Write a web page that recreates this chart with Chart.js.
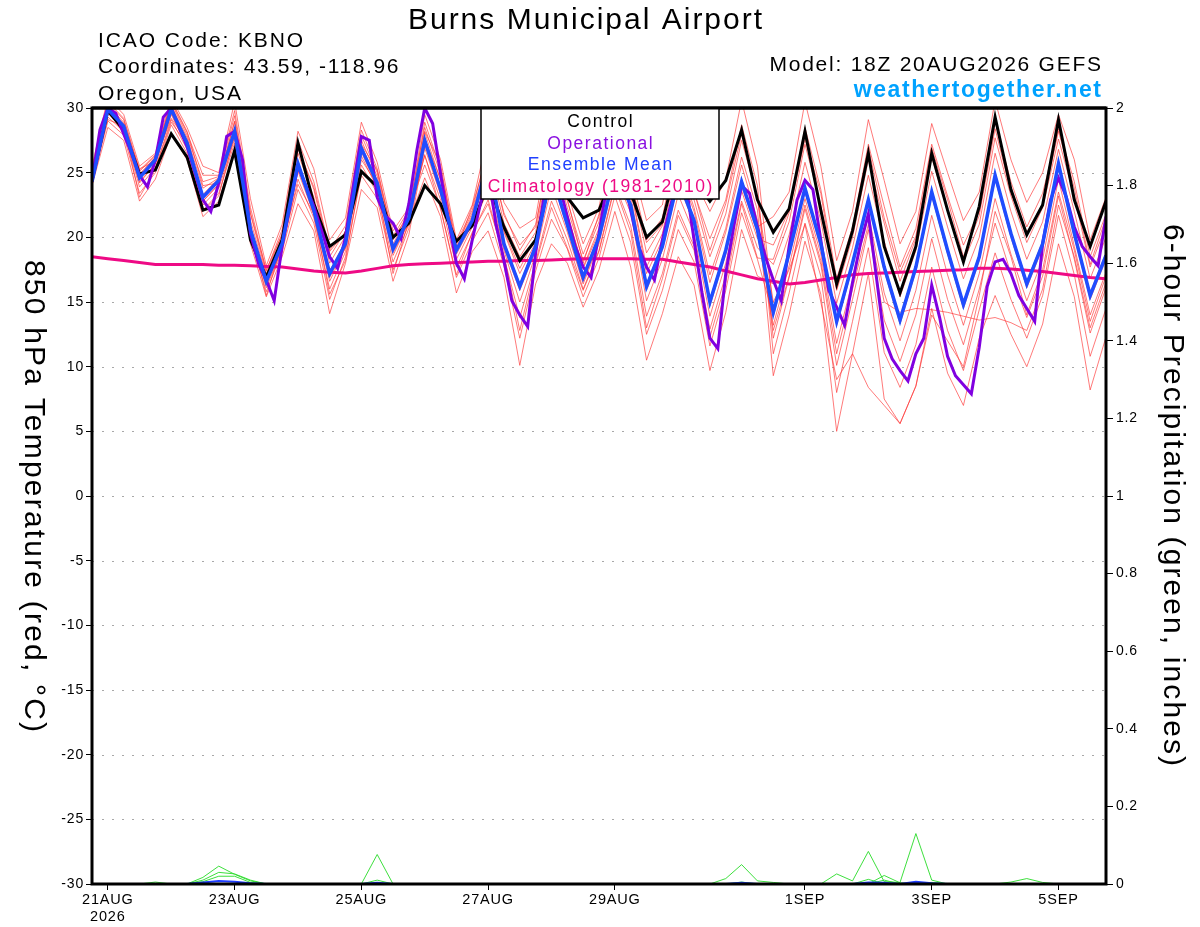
<!DOCTYPE html>
<html><head><meta charset="utf-8">
<script src="https://cdn.jsdelivr.net/npm/chart.js@4.4.1/dist/chart.umd.min.js"></script>
<style>html,body{margin:0;padding:0;background:#fff;}canvas{display:block;}</style>
</head><body>
<canvas id="c" width="1200" height="927"></canvas>
<script>
// ---------- DATA (6-hourly from 18Z 20AUG2026, forecast hours) ----------
const STEP_HOURS = 6;        // ensemble / control / climatology / precip step
const OP_STEP_HOURS = 3;     // operational run step

const control = [24.4,29.8,28.3,24.9,25.2,28.0,26.2,22.1,22.5,26.7,19.8,16.9,19.8,27.3,22.6,19.3,20.2,25.1,23.9,20.0,21.1,
  24.0,22.6,19.7,20.9,24.2,20.8,18.2,19.8,24.8,23.1,21.5,22.1,25.0,23.5,20.0,21.2,26.0,24.5,22.8,24.4,28.3,22.9,
  20.4,22.2,28.2,22.1,16.4,20.5,26.5,19.3,15.7,19.3,26.5,22.1,18.1,22.4,29.3,23.7,20.2,22.5,29.1,22.9,19.3,22.8];

const ensembleMean = [24.3,29.9,28.6,24.6,26.0,29.9,27.3,23.1,24.4,28.2,20.6,16.6,19.5,25.7,22.1,17.2,19.5,26.9,24.2,19.1,21.5,
  27.5,23.7,19.0,21.3,26.0,19.5,16.2,19.3,25.0,21.0,16.9,20.0,25.0,22.5,16.2,19.3,24.5,21.3,15.0,19.0,24.3,20.6,
  14.2,18.8,23.8,19.5,13.5,18.0,22.9,17.7,13.6,17.7,23.5,19.0,14.8,18.5,24.8,20.3,16.4,19.5,25.7,20.3,15.5,18.6];

const operational = [24.4,28.3,30.0,29.6,28.0,26.5,24.8,23.9,26.0,29.3,30.0,28.5,27.0,25.0,22.9,22.0,24.2,27.8,28.2,26.0,
  20.3,18.0,16.7,15.1,19.3,22.5,25.5,24.0,22.4,20.5,18.5,17.6,20.0,24.0,27.8,27.5,23.1,21.7,21.1,19.9,
  22.6,26.7,30.0,28.8,24.9,21.3,18.0,16.8,19.8,22.5,25.0,21.0,18.2,15.1,14.0,13.1,18.8,22.9,26.0,24.0,
  21.6,19.3,17.7,16.9,20.3,24.0,26.0,25.0,22.1,19.3,17.7,16.7,19.8,22.4,24.5,24.0,19.8,15.7,12.2,11.4,
  17.2,20.8,24.0,23.4,20.8,18.5,16.7,15.1,19.3,22.9,24.4,23.7,19.8,15.9,14.6,13.2,16.5,19.5,21.8,17.0,
  12.2,10.6,9.7,8.9,11.0,12.2,16.3,13.8,10.8,9.3,8.6,7.9,11.5,16.2,18.1,18.3,17.2,15.5,14.5,13.5,
  19.5,22.9,24.6,23.1,20.8,19.3,18.5,17.8,21.6];

const climatology = [18.5,18.35,18.2,18.05,17.9,17.9,17.9,17.9,17.85,17.85,17.8,17.75,17.7,17.55,17.4,17.3,17.25,17.4,17.6,17.8,17.9,
  17.95,18.0,18.05,18.1,18.15,18.15,18.2,18.2,18.25,18.3,18.35,18.35,18.35,18.35,18.3,18.3,18.1,17.9,17.7,17.4,17.1,16.8,
  16.6,16.4,16.5,16.7,16.9,17.1,17.2,17.25,17.3,17.35,17.4,17.45,17.5,17.6,17.6,17.55,17.45,17.35,17.2,17.05,16.9,16.8];

// ensemble members (estimated)
const member01 = [25.5,30.8,29.5,25.5,26.5,30.8,28.5,25.5,25.0,30.5,23.0,17.8,21.0,28.2,25.3,19.8,21.5,28.9,25.8,20.5,22.3,
  28.5,24.9,19.4,21.9,26.3,21.1,18.5,20.4,26.8,22.3,18.2,21.2,27.3,24.5,18.8,20.9,26.8,22.9,18.5,21.8,27.5,23.1,
  12.2,16.9,22.2,17.9,10.1,15.2,20.6,13.6,10.4,14.0,19.9,15.2,11.7,16.0,21.1,17.2,13.8,17.0,23.2,18.3,12.6,16.1];
const member02 = [24.0,28.5,27.5,22.8,24.5,28.0,26.0,21.6,22.8,26.8,19.5,15.4,18.5,22.6,20.5,14.1,18.0,23.7,22.3,16.6,20.2,
  26.9,23.3,18.3,20.8,23.7,19.0,15.0,18.7,23.9,20.4,16.4,19.5,24.8,21.9,15.1,18.3,23.3,20.3,13.9,18.0,23.6,19.9,
  19.4,22.1,28.5,23.7,16.8,20.8,27.2,22.4,17.7,20.7,27.2,23.2,19.4,22.0,28.9,24.3,20.8,23.4,28.4,24.3,18.5,21.8];
const member03 = [24.5,30.1,28.8,24.8,26.2,30.1,27.5,23.3,24.6,28.4,20.8,16.8,19.7,25.9,22.3,17.4,19.7,27.1,24.4,19.3,21.7,
  29.5,26.0,19.8,22.5,28.0,22.7,20.7,21.5,28.5,23.5,19.5,22.3,29.0,26.0,21.3,22.5,29.0,24.5,22.0,24.5,30.6,25.5,
  14.4,19.0,24.0,19.7,13.7,18.2,23.1,17.9,13.8,17.9,23.7,19.2,15.0,18.7,25.0,20.5,16.6,19.7,25.9,20.5,15.7,18.8];
const member04 = [24.2,29.6,28.4,24.2,25.7,29.5,27.0,22.8,24.1,27.9,20.4,16.4,19.3,25.1,21.8,16.6,19.2,26.3,23.8,18.6,21.2,
  24.6,21.6,15.7,18.9,20.5,16.9,10.1,16.4,19.5,18.0,14.6,17.5,22.0,17.7,10.5,14.1,18.5,16.3,9.7,14.2,20.6,17.0,
  16.4,20.2,25.8,21.3,14.9,19.2,24.8,19.7,15.4,19.0,25.1,20.8,16.8,20.0,26.5,22.0,18.3,21.2,26.8,22.0,16.8,20.0];
const member05 = [24.9,30.4,29.1,25.1,26.3,30.4,27.9,24.3,24.7,29.4,21.8,17.2,20.3,27.0,23.7,18.5,20.5,27.9,25.0,19.8,21.9,
  27.7,23.9,19.2,21.5,24.7,19.7,16.4,19.5,25.2,21.2,17.1,20.2,25.7,23.2,16.4,19.5,24.7,21.5,15.2,19.2,24.5,20.8,
  21.6,23.5,30.5,25.5,18.2,22.0,29.1,24.4,19.5,22.0,28.8,25.0,21.3,23.5,30.6,26.0,22.7,25.0,29.5,26.0,19.8,23.1];
const member06 = [24.2,29.3,28.2,23.9,25.4,29.1,26.8,22.5,23.8,27.6,20.2,16.1,19.1,24.5,21.5,16.0,18.9,25.6,23.4,18.1,21.0,
  28.1,24.4,19.2,21.7,25.6,20.5,17.6,20.0,26.1,21.8,17.7,20.7,26.6,23.9,17.7,20.3,25.9,22.3,17.1,20.7,26.2,22.1,
  9.3,14.0,19.7,15.6,5.0,11.0,17.2,7.5,5.6,8.5,14.5,9.5,7.0,12.2,15.5,12.5,10.0,13.3,19.5,15.4,8.2,12.3];
const member07 = [25.1,30.5,29.2,25.2,26.4,30.5,28.1,24.8,24.8,29.8,22.3,17.4,20.6,27.5,24.3,19.0,20.9,28.3,25.3,20.1,22.1,
  25.6,22.3,16.9,19.7,21.9,17.8,12.2,17.4,21.4,19.1,15.4,18.4,23.2,19.6,12.5,15.9,20.6,18.1,11.6,15.9,21.9,18.3,
  13.9,18.5,23.5,19.2,13.2,17.7,22.6,17.4,13.3,17.4,23.2,18.7,14.5,18.2,24.5,20.0,16.1,19.2,25.4,20.0,15.2,18.3];
const member08 = [24.0,29.6,28.3,24.3,25.7,29.6,27.0,22.8,24.1,27.9,20.3,16.3,19.2,25.4,21.8,16.9,19.2,26.6,23.9,18.8,21.2,
  28.9,25.3,19.6,22.1,27.0,21.7,19.4,20.8,27.5,22.8,18.7,21.6,28.0,25.1,19.8,21.5,27.7,23.5,19.9,22.9,28.7,24.0,
  11.0,15.7,21.1,17.0,8.0,13.5,19.2,11.1,8.4,11.7,17.7,12.8,9.7,14.4,18.8,15.2,12.2,15.5,21.7,17.1,10.8,14.5];
const member09 = [24.7,30.2,28.9,24.9,26.2,30.2,27.7,23.8,24.6,28.9,21.3,17.0,20.0,26.5,23.1,18.0,20.1,27.5,24.7,19.5,21.7,
  26.3,22.9,17.7,20.3,22.9,18.5,13.8,18.1,22.8,19.8,16.0,19.0,24.1,20.9,13.9,17.2,22.1,19.3,12.9,17.1,22.8,19.2,
  17.9,21.2,27.2,22.5,15.9,20.0,26.0,21.1,16.6,19.9,26.2,22.0,18.1,21.0,27.7,23.2,19.6,22.3,27.6,23.2,17.7,20.9];
const member10 = [24.1,29.0,27.9,23.4,25.0,28.7,26.5,22.1,23.4,27.3,19.9,15.8,18.9,23.7,21.1,15.2,18.5,24.8,23.0,17.5,20.7,
  27.2,23.4,18.7,21.0,24.2,19.2,15.9,19.0,24.7,20.7,16.6,19.7,25.2,22.7,15.9,19.0,24.2,21.0,14.7,18.7,24.0,20.3,
  13.2,17.8,23.0,18.7,11.8,16.6,21.8,15.7,12.0,15.9,21.7,17.1,13.2,17.2,23.0,18.7,15.1,18.3,24.5,19.3,14.0,17.3];
const member11 = [24.6,29.1,28.6,23.1,25.3,28.9,27.2,22.0,23.2,27.9,20.5,15.5,19.5,24.1,21.8,15.6,18.2,25.2,23.8,17.2,21.3,
  28.2,25.6,19.0,22.4,26.6,21.9,19.0,21.0,27.1,23.0,18.0,21.8,27.8,24.3,19.6,21.0,27.5,23.6,19.0,22.6,28.0,23.0,
  15.0,17.5,21.0,15.0,9.0,11.0,8.4,7.0,5.6,8.5,14.0,12.0,10.0,15.5,22.0,18.5,14.0,17.5,23.5,19.0,13.5,17.0];
const member12 = [25.2,30.0,28.7,25.3,25.9,30.6,28.2,24.0,24.2,29.0,21.9,17.5,20.2,26.8,23.9,18.9,20.4,27.2,25.2,20.0,21.6,
  26.4,22.2,17.1,20.4,22.6,18.6,12.8,17.9,22.3,19.2,15.9,18.9,23.9,20.4,13.0,16.8,21.7,19.0,12.3,16.5,22.6,18.4,
  18.3,21.9,27.6,23.4,16.0,20.6,26.9,21.5,17.3,20.1,26.9,22.9,18.5,21.7,28.4,23.5,20.4,22.6,28.2,23.8,17.9,21.5];
const member13 = [24.0,29.8,28.0,24.5,26.0,29.2,27.4,23.2,24.3,28.1,20.0,16.6,19.6,25.6,22.4,17.0,19.5,26.0,24.1,19.0,21.5,
  27.6,24.5,18.9,21.2,25.4,20.4,17.2,19.6,25.9,21.7,17.6,20.4,26.4,23.8,17.2,19.8,25.4,22.0,16.5,20.4,25.6,21.3,
  12.8,17.0,22.5,18.2,11.0,16.0,21.0,15.0,14.2,14.5,14.4,14.2,13.9,13.6,13.8,13.4,12.8,16.0,22.5,18.5,13.0,16.5];

// 6-hour precipitation (inches)
const precipMemberA = [0,0,0,0,0,0,0,0,0,0, 0,0,0,0,0,0,0,0,0,0, 0,0,0,0,0,0,0,0,0,0, 0,0,0,0,0,0,0,0,0,0,
  0.014,0.05,0.008,0.004,0,0,0,0.026,0.008,0.084,0.006,0.004,0.13,0.01,0,0,0,0,0.005,0.014,0.004,0,0,0,0];
const precipMemberB = [0,0,0,0,0.005,0,0,0.017,0.046,0.025,0.008,0,0,0,0,0,0,0,0.076,0,0,0,0,0,0,0,0,0,0,0,
  0,0,0,0,0,0,0,0,0,0,0,0,0,0,0,0,0,0,0,0,0.022,0.003,0,0,0,0,0,0,0,0,0,0,0,0,0];
const precipMemberC = [0,0,0,0,0,0,0,0.01,0.03,0.026,0.01,0,0,0,0,0,0,0,0.01,0,0,0,0,0,0,0,0,0,0,0,
  0,0,0,0,0,0,0,0,0,0,0,0.005,0,0,0,0,0,0,0,0.012,0,0,0,0,0,0,0,0,0,0,0,0,0,0,0];
const precipMemberD = [0,0,0,0,0,0,0,0.006,0.02,0.02,0.004,0,0,0,0,0,0,0,0,0,0,0,0,0,0,0,0,0,0,0,
  0,0,0,0,0,0,0,0,0,0,0,0,0,0,0,0,0,0,0,0,0.01,0,0,0.004,0,0,0,0,0,0,0,0,0,0,0];
const precipMean = [0,0,0,0,0,0,0,0.004,0.008,0.006,0.002,0,0,0,0,0,0,0,0.003,0,0,0,0,0,0,0,0,0,0,0,
  0,0,0,0,0,0,0,0,0,0,0,0.003,0,0,0,0,0,0,0,0.004,0.003,0,0.006,0.002,0,0,0,0,0,0,0,0,0,0,0];

// axes
const xTickHours = [6,54,102,150,198,270,318,366];
const xTickLabels = [['21AUG','2026'],'23AUG','25AUG','27AUG','29AUG','1SEP','3SEP','5SEP'];
const tempTicks = [-30,-25,-20,-15,-10,-5,0,5,10,15,20,25,30];
const precipTicks = [0,0.2,0.4,0.6,0.8,1,1.2,1.4,1.6,1.8,2];
const precipTickLabels = ['0','0.2','0.4','0.6','0.8','1','1.2','1.4','1.6','1.8','2'];

// ---------- CHART ----------
const FONT = "'Liberation Sans', Arial, Helvetica, sans-serif";
function pts(vals, step){ return vals.map((v,i)=>({x:i*step, y:v})); }
const members = [member01,member02,member03,member04,member05,member06,member07,member08,member09,member10,member11,member12,member13];
const precipMembers = [precipMemberA,precipMemberB,precipMemberC,precipMemberD];

const datasets = [
  {label:'Ensemble Mean', data:pts(ensembleMean,STEP_HOURS), borderColor:'#1f4dff', borderWidth:3.5, order:1, yAxisID:'y'},
  {label:'Operational', data:pts(operational,OP_STEP_HOURS), borderColor:'#8000e0', borderWidth:3, order:2, yAxisID:'y'},
  {label:'Control', data:pts(control,STEP_HOURS), borderColor:'#000000', borderWidth:3, order:3, yAxisID:'y'},
  {label:'Climatology (1981-2010)', data:pts(climatology,STEP_HOURS), borderColor:'#ee0a85', borderWidth:3, order:4, yAxisID:'y'},
];
members.forEach((m,k)=>datasets.push({label:'member'+(k+1), data:pts(m,STEP_HOURS), borderColor:'rgba(255,50,50,0.65)', borderWidth:1, order:10, yAxisID:'y'}));
datasets.push({label:'precip mean', data:pts(precipMean,STEP_HOURS), borderColor:'#1f3dff', borderWidth:2, order:5, yAxisID:'y1'});
precipMembers.forEach((p,k)=>datasets.push({label:'precip'+k, data:pts(p,STEP_HOURS), borderColor:'rgba(40,220,40,0.9)', borderWidth:1, order:6, yAxisID:'y1'}));

function spaced(ctx, text, x, y, spacing){
  ctx.letterSpacing = spacing + 'px';
  const w = ctx.measureText(text).width - spacing;
  const al = ctx.textAlign;
  let sx = x;
  if (al === 'center') sx = x - w/2; else if (al === 'right') sx = x - w;
  ctx.textAlign = 'left'; ctx.fillText(text, sx, y); ctx.textAlign = al;
  ctx.letterSpacing = '0px';
}

const overlay = {
  id:'overlay',
  beforeDraw(chart){ chart.ctx.letterSpacing = '0.8px'; },
  beforeDatasetsDraw(chart){
    const {ctx, chartArea:a} = chart; const ys = chart.scales.y;
    ctx.save(); ctx.strokeStyle='#a8a8a8'; ctx.lineWidth=1; ctx.setLineDash([2,8]);
    tempTicks.forEach(v=>{ if(v===-30||v===30) return; const y=Math.round(ys.getPixelForValue(v))+0.5;
      ctx.beginPath(); ctx.moveTo(a.left,y); ctx.lineTo(a.right,y); ctx.stroke(); });
    ctx.restore();
  },
  afterDatasetsDraw(chart){
    const {ctx, chartArea:a} = chart;
    ctx.save();
    ctx.strokeStyle='#000'; ctx.lineWidth=3; ctx.strokeRect(a.left, a.top, a.right-a.left, a.bottom-a.top);
    // legend box
    ctx.fillStyle='#fff'; ctx.fillRect(481,108,238,91);
    ctx.lineWidth=1.5; ctx.strokeRect(481,108,238,91);
    ctx.lineWidth=3; ctx.beginPath(); ctx.moveTo(a.left,a.top); ctx.lineTo(a.right,a.top); ctx.stroke();
    ctx.textAlign='center'; ctx.textBaseline='alphabetic'; ctx.font='17.5px '+FONT;
    [['Control','#000'],['Operational','#8a10e0'],['Ensemble Mean','#2040ff'],['Climatology (1981-2010)','#ee0a85']]
      .forEach((t,k)=>{ ctx.fillStyle=t[1]; spaced(ctx,t[0],600,127+k*21.6,1.5); });
    ctx.restore();
  },
  afterDraw(chart){
    const {ctx} = chart;
    ctx.save(); ctx.fillStyle='#000'; ctx.textBaseline='alphabetic';
    ctx.font='30px '+FONT; ctx.textAlign='center'; spaced(ctx,'Burns Municipal Airport',585,29,2);
    ctx.font='21px '+FONT; ctx.textAlign='left';
    spaced(ctx,'ICAO Code: KBNO',98,47,1.9);
    spaced(ctx,'Coordinates: 43.59, -118.96',98,73,1.6);
    spaced(ctx,'Oregon, USA',98,100,1.8);
    ctx.textAlign='right'; spaced(ctx,'Model: 18Z 20AUG2026 GEFS',1101,71,1.75);
    ctx.font='bold 23px '+FONT; ctx.fillStyle='#00a2ff'; spaced(ctx,'weathertogether.net',1101,97,1.6);
    // axis titles
    ctx.fillStyle='#000'; ctx.font='30px '+FONT; ctx.textAlign='center'; ctx.textBaseline='middle';
    ctx.save(); ctx.translate(33,496); ctx.rotate(Math.PI/2); spaced(ctx,'850 hPa Temperature (red, \u00B0C)',0,0,2.2); ctx.restore();
    ctx.save(); ctx.translate(1172,495); ctx.rotate(Math.PI/2); spaced(ctx,'6-hour Precipitation (green, inches)',0,0,2.1); ctx.restore();
    ctx.restore();
    ctx.letterSpacing = '0px';
  }
};

new Chart(document.getElementById('c'), {
  type:'line',
  data:{datasets},
  options:{
    responsive:false, animation:false, devicePixelRatio:1,
    layout:{padding:{top:108,left:0,right:0,bottom:0}},
    plugins:{legend:{display:false}, tooltip:{enabled:false}, title:{display:false}},
    elements:{point:{radius:0}, line:{tension:0, fill:false}},
    scales:{
      x:{type:'linear', min:0, max:384,
        afterBuildTicks:s=>{ s.ticks = xTickHours.map(v=>({value:v})); },
        ticks:{autoSkip:false, maxRotation:0, color:'#000', font:{family:FONT,size:14.5}, padding:1, callback:(v,i)=>xTickLabels[i]},
        grid:{drawOnChartArea:false, drawTicks:true, tickLength:6, tickColor:'#000', tickWidth:1},
        border:{display:false},
        afterFit:s=>{ s.height = 43; }},
      y:{position:'left', min:-30, max:30,
        afterBuildTicks:s=>{ s.ticks = tempTicks.map(v=>({value:v})); },
        ticks:{color:'#000', font:{family:FONT,size:14}, padding:2},
        grid:{drawOnChartArea:false, drawTicks:true, tickLength:6, tickColor:'#000', tickWidth:1},
        border:{display:false},
        afterFit:s=>{ s.width = 92; }},
      y1:{position:'right', min:0, max:2,
        afterBuildTicks:s=>{ s.ticks = precipTicks.map(v=>({value:v})); },
        ticks:{color:'#000', font:{family:FONT,size:14}, padding:3, callback:(v,i)=>precipTickLabels[i]},
        grid:{drawOnChartArea:false, drawTicks:true, tickLength:7, tickColor:'#000', tickWidth:1},
        border:{display:false},
        afterFit:s=>{ s.width = 94; }}
    }
  },
  plugins:[overlay]
});
</script>
</body></html>
